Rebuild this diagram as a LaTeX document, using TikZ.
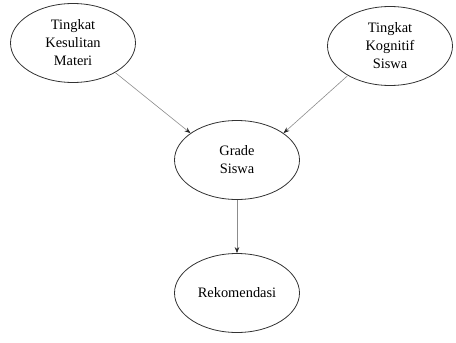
\documentclass[tikz,border=0pt]{standalone}
\usepackage{fontspec}
\setmainfont{Liberation Serif}
\usetikzlibrary{shapes.geometric,arrows.meta}
\begin{document}
\begin{tikzpicture}[x=1pt,y=-1pt,
  factor/.style={ellipse,draw=black!80,line width=0.8pt,minimum width=125pt,minimum height=79pt,
    inner sep=0pt,align=center,font=\fontsize{14.4}{18}\selectfont},
  link/.style={draw=black!45,line width=0.6pt,-{Stealth[length=6pt,width=4.5pt,black!85]}}]
\useasboundingbox (0,0) rectangle (456,343);
\node[factor] (materi) at (73,43) {Tingkat\\Kesulitan\\Materi};
\node[factor] (kognitif) at (390,46) {Tingkat\\Kognitif\\Siswa};
\node[factor] (grade) at (237,160) {Grade\\Siswa};
\node[factor] (rekom) at (237,293) {Rekomendasi};
\draw[link] (materi.-35) -- (grade.150);
\draw[link] (kognitif.-145) -- (grade.30);
\draw[link] (grade) -- (rekom);
\end{tikzpicture}
\end{document}
